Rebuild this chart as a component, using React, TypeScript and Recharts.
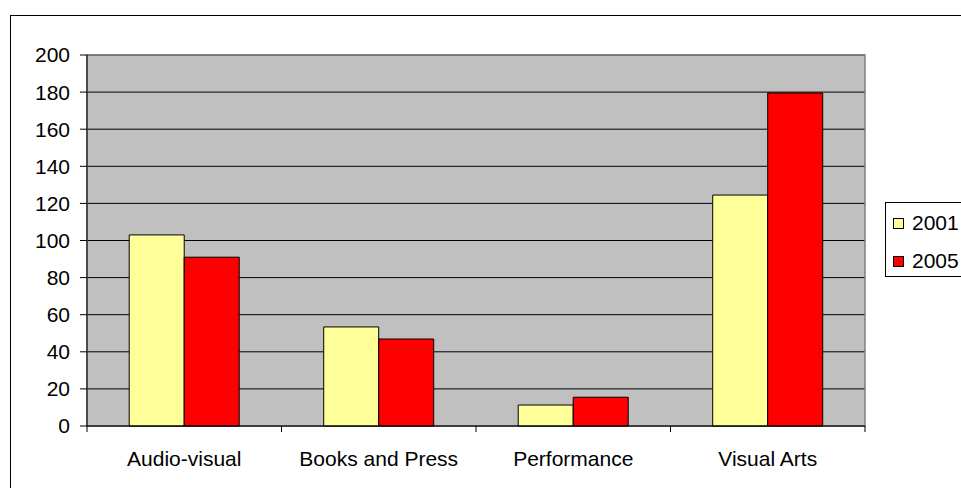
import { BarChart, Bar, XAxis, YAxis, CartesianGrid, Legend, ReferenceArea } from 'recharts';

const categories = ['Audio-visual', 'Books and Press', 'Performance', 'Visual Arts'];
const values2001 = [103, 53.4, 11.3, 124.5];
const values2005 = [91, 46.9, 15.5, 179.5];
const yTicks = [0, 20, 40, 60, 80, 100, 120, 140, 160, 180, 200];

const data = categories.map((name, i) => ({ name, y2001: values2001[i], y2005: values2005[i] }));

const font = '"Liberation Sans", Arial, sans-serif';

// category label plus the Excel-style tick marks on the band edges
function CategoryTick(props: any) {
  const { x, y, payload, index, visibleTicksCount } = props;
  const half = payload.offset || 0;
  const axisY = y - 25;
  return (
    <g>
      <line x1={x - half} x2={x - half} y1={axisY} y2={axisY + 6} stroke="#000" />
      {index === visibleTicksCount - 1 && (
        <line x1={x + half} x2={x + half} y1={axisY} y2={axisY + 6} stroke="#000" />
      )}
      <text x={x} y={y} dy="0.71em" textAnchor="middle" fill="#000" fontSize={21} fontFamily={font}>
        {payload.value}
      </text>
    </g>
  );
}

function LegendBox({ payload }: any) {
  return (
    <div style={{ border: '1px solid #000', background: '#fff', width: 100, height: 75, boxSizing: 'border-box', paddingTop: 1, paddingLeft: 7 }}>
      {(payload || []).map((p: any) => (
        <div key={p.value} style={{ display: 'flex', alignItems: 'center', height: 38 }}>
          <span style={{ width: 9, height: 9, background: p.color, border: '1px solid #000', display: 'inline-block', marginRight: 8 }} />
          <span style={{ fontFamily: font, fontSize: 21, color: '#000' }}>{p.value}</span>
        </div>
      ))}
    </div>
  );
}

export default function App() {
  return (
    <div style={{ position: 'absolute', left: 0, top: 0, width: 961, height: 488, overflow: 'hidden', background: '#fff' }}>
      <div style={{ position: 'absolute', left: 10, top: 15, width: 1000, height: 1000, border: '1px solid #000' }} />
      <div style={{ position: 'absolute', left: 0, top: 0 }}>
        <BarChart
          width={961}
          height={488}
          data={data}
          margin={{ top: 55, right: 96, left: 0, bottom: 0 }}
          barCategoryGap="21.7%"
          barGap={0}
        >
          <CartesianGrid vertical={false} stroke="#000" fill="#C0C0C0" fillOpacity={1} />
          <XAxis
            xAxisId="cat"
            dataKey="name"
            height={62}
            tickLine={false}
            tickSize={0}
            tickMargin={25}
            axisLine={{ stroke: '#000' }}
            tick={<CategoryTick />}
          />
          <YAxis
            width={87}
            domain={[0, 200]}
            ticks={yTicks}
            interval={0}
            tickSize={7}
            tickMargin={10}
            tickLine={{ stroke: '#000' }}
            axisLine={{ stroke: '#000' }}
            tick={{ fill: '#000', fontSize: 21, fontFamily: font }}
          />
          <ReferenceArea xAxisId="cat" y1={0} y2={200} stroke="#808080" strokeWidth={1.5} fill="none" fillOpacity={0} />
          <Legend
            layout="vertical"
            align="center"
            verticalAlign="middle"
            wrapperStyle={{ left: 885, top: 202, width: 100 }}
            content={<LegendBox />}
          />
          <Bar xAxisId="cat" dataKey="y2001" name="2001" fill="#FFFF99" stroke="#000" strokeWidth={1} isAnimationActive={false} />
          <Bar xAxisId="cat" dataKey="y2005" name="2005" fill="#FF0000" stroke="#000" strokeWidth={1} isAnimationActive={false} />
        </BarChart>
      </div>
    </div>
  );
}
